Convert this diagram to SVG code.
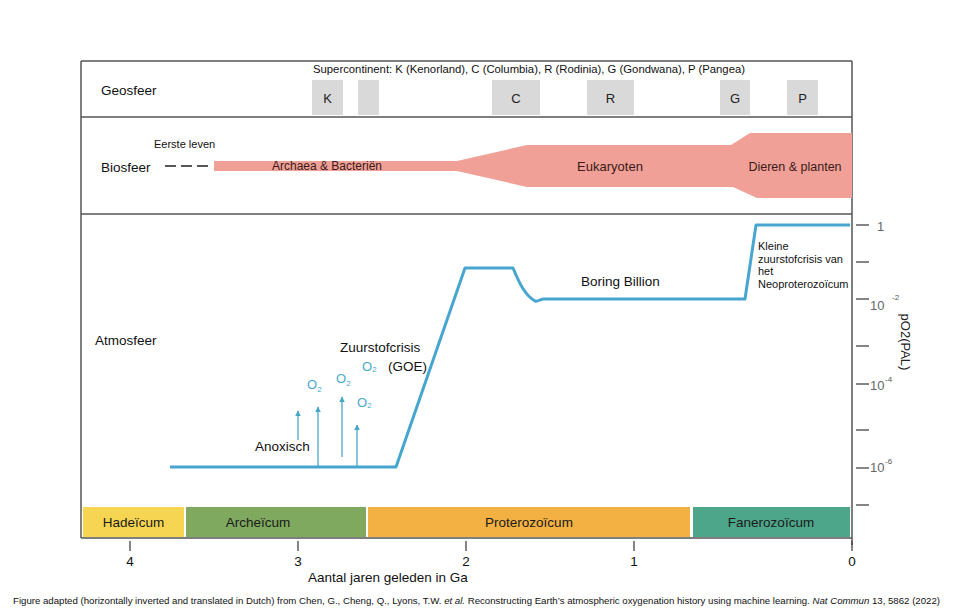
<svg xmlns="http://www.w3.org/2000/svg" width="960" height="614" viewBox="0 0 960 614">
<style>
text{font-family:"Liberation Sans",Arial,sans-serif;fill:#111}
.lbl{font-size:13.5px}
.sm{font-size:11px}
.box{fill:#d9d9d9}
.bl{font-size:13px;fill:#222}
.frame{stroke:#555;stroke-width:1.5;fill:none}
.tick{stroke:#444;stroke-width:1.3}
.ax{font-size:13px;fill:#666}
.o2{font-size:13px;fill:#4aa8cc}
.o2s{font-size:8px;fill:#4aa8cc}
.era{font-size:13.5px;fill:#1a1a1a}
.curve{fill:none;stroke:#46a6d0;stroke-width:3;stroke-linejoin:round}
.arr{stroke:#46a6c8;stroke-width:1.3;fill:none}
</style>
<defs>
<marker id="ah" viewBox="0 0 10 10" refX="9" refY="5" markerWidth="6" markerHeight="6" orient="auto" markerUnits="userSpaceOnUse">
<path d="M0,0 L10,5 L0,10 z" fill="#46a6c8"/>
</marker>
</defs>
<rect width="960" height="614" fill="#fff"/>

<g id="frame">
<line class="frame" x1="81" y1="61" x2="81" y2="538"/>
<line class="frame" x1="852" y1="61" x2="852" y2="545"/>
<line class="frame" x1="81" y1="61" x2="852" y2="61"/>
<line class="frame" x1="81" y1="117" x2="852" y2="117"/>
<line class="frame" x1="81" y1="214" x2="852" y2="214"/>
<line class="frame" x1="81" y1="538" x2="852" y2="538"/>
</g>

<g id="geosfeer">
<text class="lbl" x="101" y="95">Geosfeer</text>
<text class="sm" x="313" y="73" textLength="432" lengthAdjust="spacingAndGlyphs">Supercontinent: K (Kenorland), C (Columbia), R (Rodinia),  G (Gondwana), P (Pangea)</text>
<rect class="box" x="312" y="80" width="31" height="35"/>
<text class="bl" x="327.5" y="103" text-anchor="middle">K</text>
<rect class="box" x="358" y="80" width="21" height="35"/>
<rect class="box" x="492" y="80" width="48" height="35"/>
<text class="bl" x="516" y="103" text-anchor="middle">C</text>
<rect class="box" x="587" y="80" width="47" height="35"/>
<text class="bl" x="610.5" y="103" text-anchor="middle">R</text>
<rect class="box" x="720" y="80" width="30" height="35"/>
<text class="bl" x="735" y="103" text-anchor="middle">G</text>
<rect class="box" x="787" y="80" width="31" height="35"/>
<text class="bl" x="802.5" y="103" text-anchor="middle">P</text>
</g>

<g id="biosfeer">
<text class="lbl" x="101" y="172">Biosfeer</text>
<text class="sm" x="154" y="148">Eerste leven</text>
<path d="M165,166 h11 M181,166 h11 M197,166 h11" stroke="#222" stroke-width="1.3"/>
<path d="M214,161 L457,161 L527,145 L731,145 L750,133 L852,133 L852,198 L757,198 L733,187 L527,187 L457,171 L214,171 Z" fill="#f0a096"/>
<text x="327" y="169.5" text-anchor="middle" style="font-size:12px;fill:#3a1a1a">Archaea &amp; Bacteriën</text>
<text x="610" y="171" text-anchor="middle" style="font-size:13px;fill:#3a1a1a">Eukaryoten</text>
<text x="795" y="171" text-anchor="middle" style="font-size:12.5px;fill:#3a1a1a">Dieren &amp; planten</text>
</g>

<g id="atmosfeer">
<text class="lbl" x="95" y="345">Atmosfeer</text>
<text class="lbl" x="340" y="352">Zuurstofcrisis</text>
<text class="lbl" x="388" y="371">(GOE)</text>
<text class="lbl" x="255" y="451">Anoxisch</text>
<text class="lbl" x="581" y="286">Boring Billion</text>
<text class="sm" x="758" y="250">Kleine</text>
<text class="sm" x="758" y="262.5">zuurstofcrisis van</text>
<text class="sm" x="758" y="275">het</text>
<text class="sm" x="758" y="287.5">Neoproterozoïcum</text>
<text class="o2" x="362" y="371">O<tspan class="o2s" dy="1">2</tspan></text>
<text class="o2" x="307" y="389">O<tspan class="o2s" dy="3">2</tspan></text>
<text class="o2" x="336" y="383">O<tspan class="o2s" dy="3">2</tspan></text>
<text class="o2" x="357" y="407">O<tspan class="o2s" dy="1">2</tspan></text>
</g>

<g id="connectors">
<path class="curve" d="M170,467 L396,467 L465,268 L513,268 C520,285 526,296 535,301 C538,302 540,299 544,299 L745,299 L756,225 L850,225"/>
<line class="arr" x1="298" y1="440" x2="298" y2="411" marker-end="url(#ah)"/>
<line class="arr" x1="318" y1="467" x2="318" y2="407" marker-end="url(#ah)"/>
<line class="arr" x1="342" y1="457" x2="342" y2="397" marker-end="url(#ah)"/>
<line class="arr" x1="357" y1="467" x2="357" y2="425" marker-end="url(#ah)"/>
</g>

<g id="y-axis">
<g class="tick">
<line x1="856" y1="225" x2="869" y2="225"/>
<line x1="856" y1="262" x2="869" y2="262"/>
<line x1="856" y1="299" x2="869" y2="299"/>
<line x1="856" y1="346" x2="869" y2="346"/>
<line x1="856" y1="384" x2="869" y2="384"/>
<line x1="856" y1="430" x2="869" y2="430"/>
<line x1="856" y1="468" x2="869" y2="468"/>
<line x1="856" y1="505" x2="869" y2="505"/>
</g>
<text class="ax" x="877" y="231">1</text>
<text class="ax" x="870" y="310">10</text>
<text x="892" y="300" style="font-size:8px;fill:#555">-2</text>
<text class="ax" x="870" y="390">10</text>
<text x="885" y="382" style="font-size:8px;fill:#555">-4</text>
<text class="ax" x="870" y="472">10</text>
<text x="885" y="464" style="font-size:8px;fill:#555">-6</text>
<text transform="translate(901,342) rotate(90)" text-anchor="middle" style="font-size:13px;fill:#222">pO2(PAL)</text>
</g>

<g id="eras">
<rect x="83" y="507" width="101" height="30" fill="#f6d552"/>
<text class="era" x="133.5" y="527" text-anchor="middle">Hadeïcum</text>
<rect x="186" y="507" width="180" height="30" fill="#7ea95e"/>
<text class="era" x="258" y="527" text-anchor="middle">Archeïcum</text>
<rect x="368" y="507" width="322" height="30" fill="#f2b142"/>
<text class="era" x="529" y="527" text-anchor="middle">Proterozoïcum</text>
<rect x="693" y="507" width="157" height="30" fill="#4ea68a"/>
<text class="era" x="771" y="527" text-anchor="middle">Fanerozoïcum</text>
</g>

<g id="x-axis">
<g class="tick">
<line x1="130" y1="541" x2="130" y2="551"/>
<line x1="298" y1="541" x2="298" y2="551"/>
<line x1="466" y1="541" x2="466" y2="551"/>
<line x1="634" y1="541" x2="634" y2="551"/>
<line x1="852" y1="541" x2="852" y2="551"/>
</g>
<text class="lbl" x="130" y="566" text-anchor="middle">4</text>
<text class="lbl" x="298" y="566" text-anchor="middle">3</text>
<text class="lbl" x="466" y="566" text-anchor="middle">2</text>
<text class="lbl" x="634" y="566" text-anchor="middle">1</text>
<text class="lbl" x="852" y="566" text-anchor="middle">0</text>
<text class="lbl" x="308" y="582">Aantal jaren geleden in Ga</text>
</g>

<g id="caption">
<text x="13" y="604" textLength="927" lengthAdjust="spacingAndGlyphs" style="font-size:9.5px;fill:#111">Figure adapted (horizontally inverted and translated in Dutch) from Chen, G., Cheng, Q., Lyons, T.W. <tspan font-style="italic">et al.</tspan> Reconstructing Earth’s atmospheric oxygenation history using machine learning. <tspan font-style="italic">Nat Commun</tspan> 13, 5862 (2022)</text>
</g>
</svg>
